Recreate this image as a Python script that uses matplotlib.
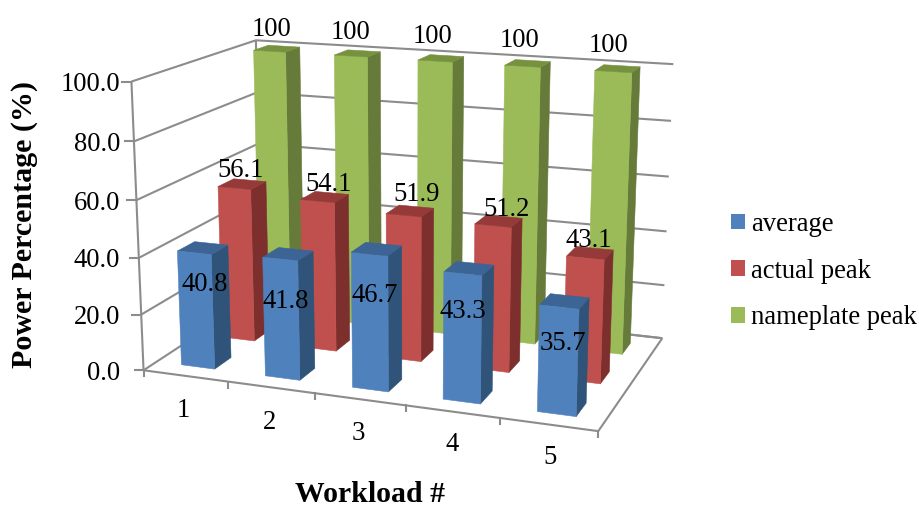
import numpy as np
import matplotlib
matplotlib.use("Agg")
import matplotlib.pyplot as plt
from matplotlib.patches import Patch

plt.rcParams["font.family"] = ["Liberation Serif", "DejaVu Serif"]

workloads = ["1", "2", "3", "4", "5"]
value_ticks = [0, 20, 40, 60, 80, 100]
average = [40.8, 41.8, 46.7, 43.3, 35.7]
actual_peak = [56.1, 54.1, 51.9, 51.2, 43.1]
nameplate_peak = [100, 100, 100, 100, 100]
series_names = ["average", "actual peak", "nameplate peak"]

# front, top and side shades of each series
blue = ("#4F81BD", "#3C6494", "#2F5379")
red = ("#C0504D", "#953A38", "#7D2F2D")
green = ("#9BBB59", "#76923F", "#667B3A")
GRID = "#8C8C8C"

# camera calibration: chart-box corners (workload, depth row, percent) -> pixel
BOX_POINTS = [
    ((0, 0, 0), (143, 371)), ((0, 0, 100), (132, 81)), ((0, 3, 100), (254, 41)),
    ((5, 0, 0), (598, 430)), ((5, 3, 0), (662, 338)), ((5, 3, 100), (673, 64)),
    ((0, 3, 0), (263, 292)), ((1, 0, 0), (227, 382)), ((2, 0, 0), (315, 394)),
    ((3, 0, 0), (405, 406)), ((4, 0, 0), (500, 418)), ((0, 0, 80), (135, 141)),
    ((0, 0, 60), (137, 200)), ((0, 0, 40), (138.5, 258)), ((0, 0, 20), (141, 314)),
    ((5, 3, 80), (672, 121)), ((5, 3, 60), (669, 177)),
]


def fit_camera(points):
    rows, rhs = [], []
    for (X, Y, Z), (u, v) in points:
        rows.append([X, Y, Z, 1, 0, 0, 0, 0, -u * X, -u * Y, -u * Z])
        rhs.append(u)
        rows.append([0, 0, 0, 0, X, Y, Z, 1, -v * X, -v * Y, -v * Z])
        rhs.append(v)
    p = np.linalg.lstsq(np.array(rows, float), np.array(rhs, float), rcond=None)[0]
    return np.array([p[:4], p[4:8], [0, 0, 0, -1], [p[8], p[9], p[10], 1]])


CAMERA = fit_camera(BOX_POINTS)


def to_pixel(x, y, z):
    h = CAMERA @ np.array([x, y, z, 1.0])
    return h[0] / h[3], h[1] / h[3]


fig = plt.figure(figsize=(9.19, 5.08), dpi=100, facecolor="white")
ax = fig.add_axes([0, 0, 1, 1], projection="3d")
ax.set_axis_off()
ax.patch.set_alpha(0)
ax.computed_zorder = False
ax.set_proj_type("ortho")
ax.get_proj = lambda: CAMERA
ax.apply_aspect = lambda position=None: None
ax.viewLim.intervalx = (0, 919)
ax.viewLim.intervaly = (508, 0)


def line3(xs, ys, zs):
    ax.plot(xs, ys, zs, color=GRID, lw=1.5, zorder=1, solid_capstyle="butt")


# walls and floor outline
for v in value_ticks:
    line3([0, 0, 5], [0, 3, 3], [v, v, v])
line3([0, 0], [0, 0], [0, 100])
line3([0, 0], [3, 3], [0, 100])
line3([0, 5, 5], [0, 0, 3], [0, 0, 0])
line3([5, 0], [3, 3], [0, 0])

# bars, back row first and left to right so nearer ones paint over
BAR = 0.4
PAD = (1 - BAR) / 2
CLEAR = (0, 0, 0, 0)
order = 2
for row, (vals, (front, top, side)) in reversed(list(enumerate(
        [(average, blue), (actual_peak, red), (nameplate_peak, green)]))):
    for i, val in enumerate(vals):
        faces = [CLEAR, top, front, CLEAR, CLEAR, side]
        bar = ax.bar3d(i + PAD, row + PAD, 0, BAR, BAR, val, color=faces,
                       edgecolor=faces, linewidth=0.4, shade=False)
        bar.set_zorder(order)
        order += 1


def pixel_text(px, py, s, **kw):
    kw.setdefault("fontsize", 19.2)
    kw.setdefault("ha", "center")
    kw.setdefault("va", "center")
    kw.setdefault("zorder", 100)
    return ax.text2D(px, py, s, transform=ax.transData, **kw)


def flat_tick(xs, ys):
    ax.add_artist(plt.Line2D(xs, ys, color=GRID, lw=1.5, transform=ax.transData, zorder=1))


# value axis ticks and labels
VALUE_LABEL_RIGHT = 120
for v in value_ticks:
    px, py = to_pixel(0, 0, v)
    flat_tick([px - 9, px], [py, py])
    pixel_text(VALUE_LABEL_RIGHT, py + 3, f"{v:.1f}", ha="right")

# workload axis ticks and labels
cat_label_nudge = [(-2, 35), (-1, 35), (-1, 34), (0, 33), (1, 33)]
for i in range(6):
    px, py = to_pixel(i, 0, 0)
    flat_tick([px, px], [py, py + 6])
for i, name in enumerate(workloads):
    px, py = to_pixel(i + 0.5, 0, 0)
    dx, dy = cat_label_nudge[i]
    pixel_text(px + dx, py + dy, name)

# value labels follow the bar tops
label_nudge = {
    0: [(2, 36), (-2, 47), (-2, 47), (-6, 43), (-2, 42)],
    1: [(-2, -14), (4, -12), (6, -16), (8, -12), (-1, -13)],
    2: [(-5, -19), (-7, -21), (-8, -22), (-8, -23), (-9, -23)],
}
for row, vals in enumerate([average, actual_peak, nameplate_peak]):
    for i, val in enumerate(vals):
        px, py = to_pixel(i + 0.5, row + 0.5, val)
        dx, dy = label_nudge[row][i]
        pixel_text(px + dx, py + dy, f"{val:g}")

# axis titles
pixel_text(25, 225, "Power Percentage (%)", rotation=90, fontweight="bold", fontsize=21.6)
pixel_text(370, 494, "Workload #", fontweight="bold", fontsize=21.4)

handles = [Patch(facecolor=c[0], edgecolor="none") for c in (blue, red, green)]
fig.legend(handles, series_names, loc="upper left", bbox_to_anchor=(731 / 919, 1 - 212 / 508),
           frameon=False, fontsize=19.2, handlelength=0.53, handleheight=0.53,
           handletextpad=0.23, labelspacing=0.81, borderpad=0, borderaxespad=0)

fig.savefig("out.png", dpi=100, facecolor="white")
